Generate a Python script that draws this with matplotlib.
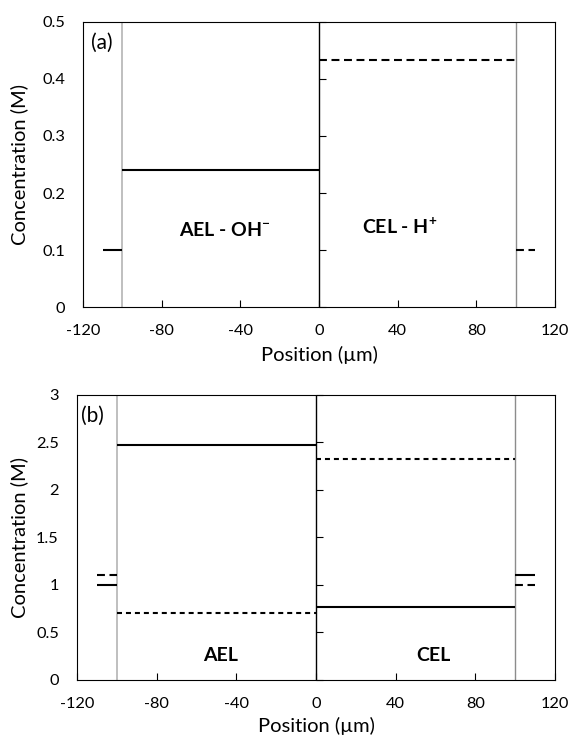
import numpy as np
import matplotlib
matplotlib.use('Agg')
import matplotlib.pyplot as plt

plt.rcParams['font.family'] = ['Lato', 'DejaVu Sans']
plt.rcParams['mathtext.fontset'] = 'custom'
plt.rcParams['mathtext.rm'] = 'Lato'
plt.rcParams['mathtext.bf'] = 'Lato:bold'

# region edges (um): bath | AEL | CEL | bath
edges = [-110, -100, 0, 100, 110]

# panel (a): OH- (solid) and H+ (dashed)
solid_a = [0.10, 0.24, np.nan, np.nan]
dashed_a = [np.nan, np.nan, 0.433, 0.10]

# panel (b): two species, solid and dashed
solid_b = [1.00, 2.47, 0.77, 1.10]
dashed_b = [1.10, 0.70, 2.33, 1.00]

xticks = [-120, -80, -40, 0, 40, 80, 120]

fig = plt.figure(figsize=(5.72, 7.38), dpi=100)
ax1 = fig.add_axes([0.1451, 0.584, 0.8252, 0.3862])
ax2 = fig.add_axes([0.1346, 0.0786, 0.8357, 0.3862])

dash_long = (0, (3.8, 2.2))
dash_short = (0, (2.4, 1.9))


def draw_panel(ax, solid, dashed, ymax, ystep, dash_mid, dash_stub,
               ylab_x, xlab_y):
    for i in range(len(edges) - 1):
        seg = [edges[i], edges[i + 1]]
        stub = i in (0, len(edges) - 2)
        if not np.isnan(solid[i]):
            ax.plot(seg, [solid[i]] * 2, color='black', lw=1.5,
                    solid_capstyle='butt')
        if not np.isnan(dashed[i]):
            ax.plot(seg, [dashed[i]] * 2, color='black', lw=1.5,
                    linestyle=dash_stub if stub else dash_mid,
                    dash_capstyle='butt')
    ax.axvline(-100, color='#b4b4b4', lw=1.2, zorder=1)
    ax.axvline(100, color='#8c8c8c', lw=1.0, zorder=1)
    ax.axvline(0, color='black', lw=1.0, zorder=3)

    ax.set_xlim(-120, 120)
    ax.set_ylim(0, ymax)
    ax.set_xticks(xticks)
    ax.set_xticklabels([str(t) for t in xticks])
    yt = np.arange(0, ymax + ystep / 2, ystep)
    ax.set_yticks(yt)
    ax.set_yticklabels(['%g' % v for v in yt])
    ax.tick_params(axis='y', length=0, labelsize=11.8, pad=13)
    ax.tick_params(axis='x', direction='in', length=5, labelsize=11.8,
                   pad=12, width=0.8)
    for sp in ax.spines.values():
        sp.set_linewidth(0.8)
        sp.set_color('black')

    # y ticks sit on the axis at x = 0, pointing right
    sec = ax.secondary_yaxis(0.5)
    sec.set_yticks(yt)
    sec.set_yticklabels([])
    sec.tick_params(direction='out', length=5, width=0.8,
                    labelright=False, labelleft=False)
    for sp in sec.spines.values():
        sp.set_visible(False)

    ax.set_xlabel('Position (µm)', fontsize=14.5)
    ax.set_ylabel('Concentration (M)', fontsize=14.5)
    ax.xaxis.set_label_coords(0.5, xlab_y)
    ax.xaxis.label.set_va('top')
    ax.yaxis.set_label_coords(ylab_x, 0.5)


draw_panel(ax1, solid_a, dashed_a, 0.5, 0.1, dash_long, dash_long,
           -0.1165, -0.135)
draw_panel(ax2, solid_b, dashed_b, 3.0, 0.5, dash_short, dash_long,
           -0.1025, -0.128)

ax1.text(-116, 0.463, '(a)', fontsize=15, va='center', ha='left')
ax1.text(-48, 0.135, r'AEL - OH$^{\mathbf{-}}$', fontsize=14,
         fontweight='bold', ha='center', va='center')
ax1.text(41, 0.14, r'CEL - H$^{\mathbf{+}}$', fontsize=14,
         fontweight='bold', ha='center', va='center')

ax2.text(-118, 2.78, '(b)', fontsize=15, va='center', ha='left')
ax2.text(-48, 0.26, 'AEL', fontsize=14, fontweight='bold',
         ha='center', va='center')
ax2.text(59, 0.26, 'CEL', fontsize=14, fontweight='bold',
         ha='center', va='center')

fig.savefig('out.png', dpi=100)
